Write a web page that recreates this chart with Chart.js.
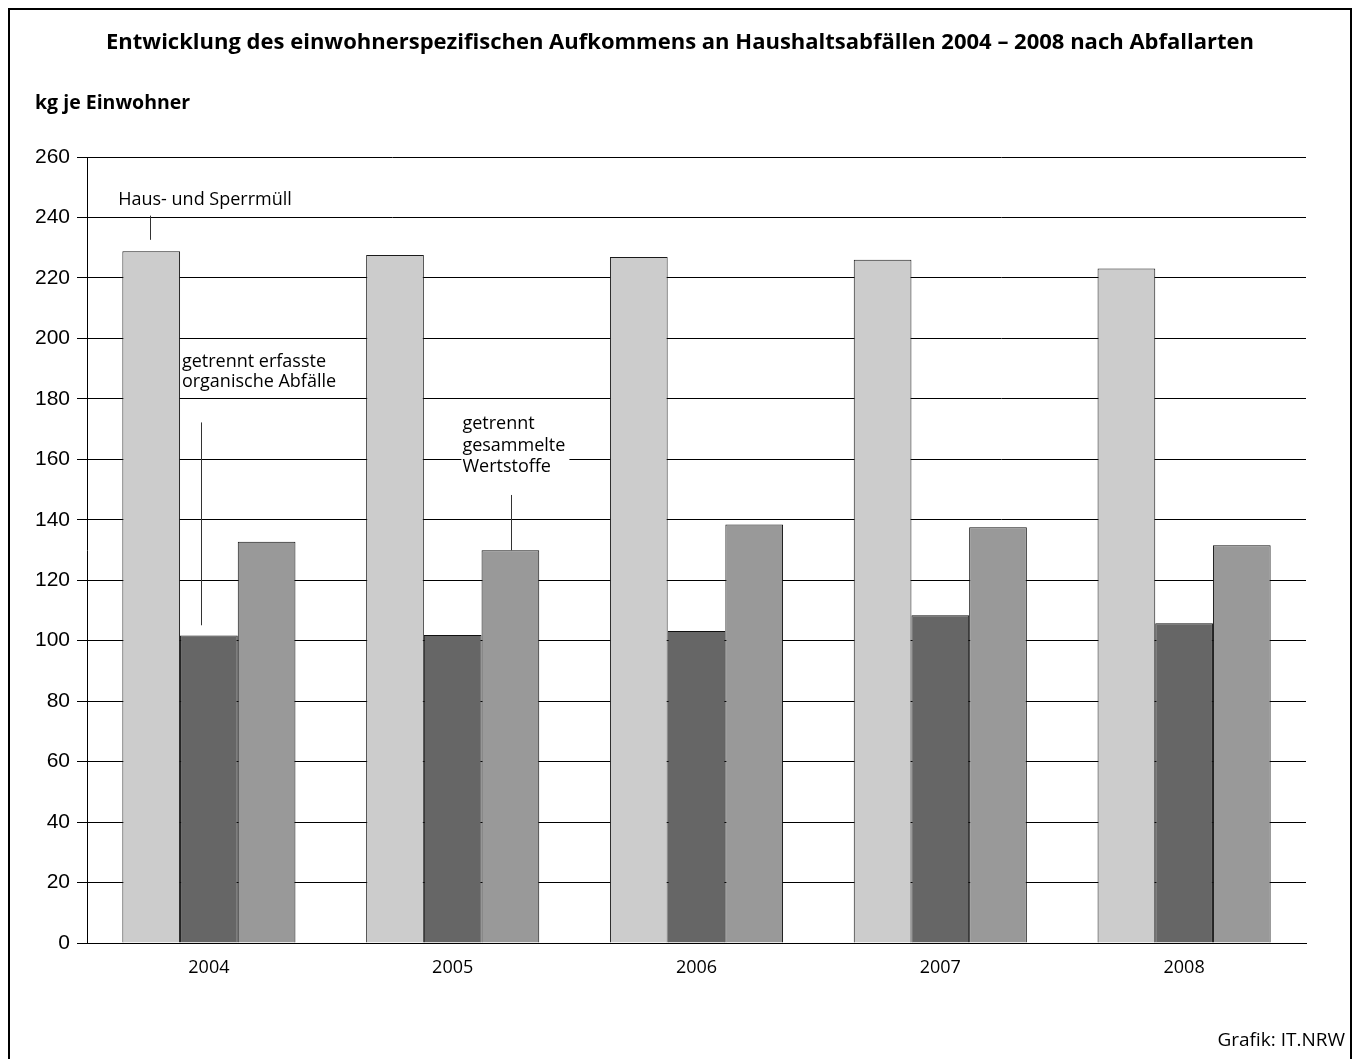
<!DOCTYPE html>
<html>
<head>
<meta charset="utf-8">
<script src="https://cdn.jsdelivr.net/npm/chart.js@4"></script>
<style>
    html, body { margin: 0; padding: 0; background: #fff; overflow: hidden; }
    #frame {
        position: absolute; left: 8px; top: 8px; width: 1344px; height: 1100px;
        border: 2px solid #000; box-sizing: border-box;
    }
    #abfallChart { position: absolute; left: 0; top: 0; }
</style>
</head>
<body>
<div id="frame"></div>
<canvas id="abfallChart" width="1355" height="1059"></canvas>
<script>
const years = ['2004', '2005', '2006', '2007', '2008'];
const hausSperrmuell = [228.8, 227.6, 226.9, 226.0, 223.1];
const organisch = [101.7, 101.9, 103.2, 108.4, 105.8];
const wertstoffe = [132.7, 129.9, 138.4, 137.5, 131.6];
const yTicks = [0, 20, 40, 60, 80, 100, 120, 140, 160, 180, 200, 220, 240, 260];

const titleText = 'Entwicklung des einwohnerspezifischen Aufkommens an Haushaltsabfällen 2004 – 2008 nach Abfallarten';
const unitText = 'kg je Einwohner';
const sourceText = 'Grafik: IT.NRW';

document.addEventListener("DOMContentLoaded", function () {
    const ctx = document.getElementById('abfallChart');

    // Beschriftungen und Hinweislinien
    const annotations = {
        id: 'annotations',
        afterDatasetsDraw(chart) {
            const c = chart.ctx;
            const y = chart.scales.y;
            const bar = (ds, i) => chart.getDatasetMeta(ds).data[i];

            c.save();
            c.font = 'bold 22px "Open Sans", sans-serif';
            c.fillStyle = '#000';
            c.textAlign = 'center';
            c.textBaseline = 'middle';
            c.fillText(titleText, 680, 43);
            c.textAlign = 'left';
            c.font = 'bold 19.5px "Open Sans", sans-serif';
            c.fillText(unitText, 35, 103);
            c.font = '19px "Open Sans", sans-serif';
            c.textAlign = 'right';
            c.fillText(sourceText, 1345, 1041);

            c.font = '18px "Open Sans", sans-serif';
            c.strokeStyle = '#333';
            c.lineWidth = 1;
            c.textAlign = 'left';

            // Haus- und Sperrmüll
            let b = bar(0, 0);
            c.fillText('Haus- und Sperrmüll', b.x - 33, y.getPixelForValue(245.8));
            c.beginPath();
            c.moveTo(Math.round(b.x) - 0.5, y.getPixelForValue(240.6));
            c.lineTo(Math.round(b.x) - 0.5, y.getPixelForValue(232.6));
            c.stroke();

            // organische Abfälle
            b = bar(1, 0);
            c.fillText('getrennt erfasste', b.x - 27, y.getPixelForValue(192.2));
            c.fillText('organische Abfälle', b.x - 27, y.getPixelForValue(185.6));
            c.beginPath();
            c.moveTo(Math.round(b.x - 8) + 0.5, y.getPixelForValue(172.2));
            c.lineTo(Math.round(b.x - 8) + 0.5, y.getPixelForValue(105.1));
            c.stroke();

            // Wertstoffe
            b = bar(2, 1);
            const tx = b.x - 48;
            c.fillStyle = '#fff';
            c.fillRect(tx - 1, y.getPixelForValue(175), 108, y.getPixelForValue(154) - y.getPixelForValue(175));
            c.fillStyle = '#000';
            c.fillText('getrennt', tx, y.getPixelForValue(171.7));
            c.fillText('gesammelte', tx, y.getPixelForValue(164.4));
            c.fillText('Wertstoffe', tx, y.getPixelForValue(157.5));
            c.beginPath();
            c.moveTo(Math.round(b.x) + 1.5, y.getPixelForValue(148.2));
            c.lineTo(Math.round(b.x) + 1.5, y.getPixelForValue(wertstoffe[1]));
            c.stroke();
            c.restore();
        }
    };

    new Chart(ctx, {
        type: 'bar',
        data: {
            labels: years,
            datasets: [{
                label: 'Haus- und Sperrmüll',
                data: hausSperrmuell,
                backgroundColor: '#cccccc',
                borderColor: '#1a1a1a',
                borderWidth: 1
            }, {
                label: 'getrennt erfasste organische Abfälle',
                data: organisch,
                backgroundColor: '#666666',
                borderColor: '#111111',
                borderWidth: 1
            }, {
                label: 'getrennt gesammelte Wertstoffe',
                data: wertstoffe,
                backgroundColor: '#999999',
                borderColor: '#111111',
                borderWidth: 1
            }]
        },
        options: {
            responsive: false,
            animation: false,
            devicePixelRatio: 1,
            layout: { padding: { left: 20, right: 49, top: 157, bottom: 66 } },
            categoryPercentage: 0.71,
            barPercentage: 1.0,
            plugins: {
                legend: { display: false },
                title: { display: false },
                tooltip: { enabled: false }
            },
            scales: {
                x: {
                    grid: { display: false },
                    border: { display: true, color: '#000', width: 1 },
                    ticks: {
                        color: '#000',
                        padding: 6,
                        font: { family: '"Open Sans", sans-serif', size: 18 }
                    },
                    afterFit(scale) { scale.height = 50; }
                },
                y: {
                    min: 0,
                    max: 260,
                    afterBuildTicks(scale) { scale.ticks = yTicks.map(v => ({ value: v })); },
                    grid: { color: '#000', lineWidth: 1, tickLength: 10 },
                    border: { display: true, color: '#000', width: 1 },
                    ticks: {
                        color: '#000',
                        padding: 7,
                        font: { family: '"Liberation Sans", Arial, sans-serif', size: 21 }
                    },
                    afterFit(scale) { scale.width = 67; }
                }
            }
        },
        plugins: [annotations]
    });
});
</script>
</body>
</html>
